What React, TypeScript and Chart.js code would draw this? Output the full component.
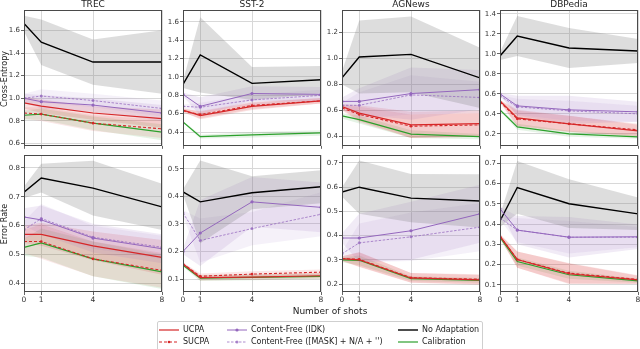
import React, { useEffect, useRef } from "react";
import { Chart, registerables } from "chart.js";

Chart.register(...registerables);

// ---------- data ----------
const SHOTS = [0, 1, 4, 8];
const X_TICKS = [0, 1, 4, 8];
const TITLES = ["TREC", "SST-2", "AGNews", "DBPedia"];
const ROW_LABELS = ["Cross-Entropy", "Error Rate"];
const SERIES_LABELS = [
  "No Adaptation",
  "Content-Free (IDK)",
  "Content-Free ([MASK] + N/A + '')",
  "UCPA",
  "SUCPA",
  "Calibration",
];

// TREC – cross-entropy
const trecCeNoAdapt = [1.66, 1.495, 1.32, 1.32];
const trecCeNoAdaptSd = [0.07, 0.2, 0.2, 0.28];
const trecCeIdk = [1.0, 0.97, 0.94, 0.87];
const trecCeIdkSd = [0.04, 0.06, 0.06, 0.07];
const trecCeMask = [1.0, 1.02, 0.98, 0.91];
const trecCeMaskSd = [0.04, 0.06, 0.06, 0.07];
const trecCeUcpa = [0.96, 0.93, 0.87, 0.82];
const trecCeUcpaSd = [0.05, 0.06, 0.06, 0.08];
const trecCeSucpa = [0.87, 0.86, 0.78, 0.73];
const trecCeSucpaSd = [0.05, 0.06, 0.07, 0.08];
const trecCeCalib = [0.85, 0.86, 0.78, 0.7];
const trecCeCalibSd = [0.04, 0.05, 0.06, 0.07];
const trecCeTicks = [0.6, 0.8, 1.0, 1.2, 1.4, 1.6];

// SST-2 – cross-entropy
const sstCeNoAdapt = [0.92, 1.24, 0.93, 0.97];
const sstCeNoAdaptSd = [0.04, 0.41, 0.18, 0.15];
const sstCeIdk = [0.81, 0.68, 0.82, 0.81];
const sstCeIdkSd = [0.02, 0.1, 0.08, 0.08];
const sstCeMask = [0.68, 0.67, 0.75, 0.8];
const sstCeMaskSd = [0.02, 0.05, 0.06, 0.06];
const sstCeUcpa = [0.64, 0.58, 0.68, 0.74];
const sstCeUcpaSd = [0.02, 0.04, 0.04, 0.03];
const sstCeSucpa = [0.63, 0.59, 0.69, 0.74];
const sstCeSucpaSd = [0.02, 0.04, 0.04, 0.03];
const sstCeCalib = [0.51, 0.35, 0.37, 0.39];
const sstCeCalibSd = [0.01, 0.02, 0.03, 0.03];
const sstCeTicks = [0.4, 0.6, 0.8, 1.0, 1.2, 1.4, 1.6];

// AGNews – cross-entropy
const agCeNoAdapt = [0.85, 1.01, 1.03, 0.85];
const agCeNoAdaptSd = [0.05, 0.28, 0.29, 0.23];
const agCeIdk = [0.67, 0.67, 0.73, 0.76];
const agCeIdkSd = [0.03, 0.1, 0.2, 0.15];
const agCeMask = [0.64, 0.64, 0.72, 0.7];
const agCeMaskSd = [0.02, 0.1, 0.15, 0.12];
const agCeUcpa = [0.63, 0.58, 0.49, 0.5];
const agCeUcpaSd = [0.02, 0.06, 0.1, 0.1];
const agCeSucpa = [0.62, 0.57, 0.48, 0.49];
const agCeSucpaSd = [0.02, 0.06, 0.09, 0.09];
const agCeCalib = [0.56, 0.53, 0.42, 0.4];
const agCeCalibSd = [0.02, 0.03, 0.03, 0.02];
const agCeTicks = [0.4, 0.6, 0.8, 1.0, 1.2];

// DBPedia – cross-entropy
const dbCeNoAdapt = [0.98, 1.18, 1.06, 1.03];
const dbCeNoAdaptSd = [0.04, 0.2, 0.2, 0.12];
const dbCeIdk = [0.6, 0.48, 0.44, 0.42];
const dbCeIdkSd = [0.01, 0.1, 0.14, 0.1];
const dbCeMask = [0.58, 0.47, 0.43, 0.4];
const dbCeMaskSd = [0.01, 0.08, 0.1, 0.08];
const dbCeUcpa = [0.53, 0.36, 0.3, 0.23];
const dbCeUcpaSd = [0.01, 0.08, 0.08, 0.06];
const dbCeSucpa = [0.52, 0.35, 0.3, 0.24];
const dbCeSucpaSd = [0.01, 0.08, 0.08, 0.06];
const dbCeCalib = [0.44, 0.27, 0.2, 0.17];
const dbCeCalibSd = [0.01, 0.03, 0.03, 0.02];
const dbCeTicks = [0.2, 0.4, 0.6, 0.8, 1.0, 1.2, 1.4];

// TREC – error rate
const trecErNoAdapt = [0.716, 0.765, 0.73, 0.665];
const trecErNoAdaptSd = [0.02, 0.05, 0.095, 0.08];
const trecErIdk = [0.63, 0.62, 0.557, 0.52];
const trecErIdkSd = [0.03, 0.05, 0.05, 0.05];
const trecErMask = [0.585, 0.625, 0.56, 0.525];
const trecErMaskSd = [0.03, 0.05, 0.04, 0.04];
const trecErUcpa = [0.57, 0.57, 0.53, 0.49];
const trecErUcpaSd = [0.03, 0.04, 0.05, 0.06];
const trecErSucpa = [0.545, 0.545, 0.485, 0.445];
const trecErSucpaSd = [0.04, 0.06, 0.06, 0.06];
const trecErCalib = [0.525, 0.54, 0.485, 0.44];
const trecErCalibSd = [0.03, 0.05, 0.06, 0.06];
const trecErTicks = [0.4, 0.5, 0.6, 0.7, 0.8];

// SST-2 – error rate
const sstErNoAdapt = [0.416, 0.38, 0.413, 0.435];
const sstErNoAdaptSd = [0.01, 0.15, 0.06, 0.06];
const sstErIdk = [0.2, 0.267, 0.38, 0.36];
const sstErIdkSd = [0.01, 0.12, 0.09, 0.09];
const sstErMask = [0.34, 0.24, 0.283, 0.335];
const sstErMaskSd = [0.01, 0.08, 0.06, 0.08];
const sstErUcpa = [0.155, 0.105, 0.107, 0.112];
const sstErUcpaSd = [0.005, 0.01, 0.01, 0.01];
const sstErSucpa = [0.155, 0.11, 0.118, 0.125];
const sstErSucpaSd = [0.005, 0.01, 0.01, 0.01];
const sstErCalib = [0.15, 0.103, 0.106, 0.11];
const sstErCalibSd = [0.005, 0.01, 0.01, 0.01];
const sstErTicks = [0.1, 0.2, 0.3, 0.4, 0.5];

// AGNews – error rate
const agErNoAdapt = [0.58, 0.6, 0.555, 0.543];
const agErNoAdaptSd = [0.02, 0.11, 0.1, 0.11];
const agErIdk = [0.39, 0.39, 0.42, 0.49];
const agErIdkSd = [0.02, 0.1, 0.12, 0.12];
const agErMask = [0.325, 0.37, 0.395, 0.435];
const agErMaskSd = [0.01, 0.08, 0.1, 0.1];
const agErUcpa = [0.305, 0.3, 0.225, 0.217];
const agErUcpaSd = [0.01, 0.03, 0.02, 0.02];
const agErSucpa = [0.305, 0.302, 0.226, 0.22];
const agErSucpaSd = [0.01, 0.03, 0.02, 0.02];
const agErCalib = [0.3, 0.298, 0.222, 0.215];
const agErCalibSd = [0.01, 0.02, 0.01, 0.01];
const agErTicks = [0.2, 0.3, 0.4, 0.5, 0.6, 0.7];

// DBPedia – error rate
const dbErNoAdapt = [0.415, 0.58, 0.5, 0.45];
const dbErNoAdaptSd = [0.03, 0.13, 0.12, 0.08];
const dbErIdk = [0.475, 0.37, 0.335, 0.337];
const dbErIdkSd = [0.01, 0.07, 0.1, 0.06];
const dbErMask = [0.43, 0.37, 0.335, 0.335];
const dbErMaskSd = [0.01, 0.06, 0.08, 0.05];
const dbErUcpa = [0.34, 0.225, 0.155, 0.125];
const dbErUcpaSd = [0.01, 0.04, 0.05, 0.02];
const dbErSucpa = [0.34, 0.225, 0.158, 0.127];
const dbErSucpaSd = [0.01, 0.04, 0.05, 0.02];
const dbErCalib = [0.335, 0.215, 0.15, 0.12];
const dbErCalibSd = [0.01, 0.02, 0.02, 0.01];
const dbErTicks = [0.1, 0.2, 0.3, 0.4, 0.5, 0.6, 0.7];

// ---------- styles ----------
const FONT = "'DejaVu Sans', sans-serif";
const STYLES = [
  { color: "#000000", band: "rgba(120,120,120,0.25)", width: 1.4, dash: [] as number[], radius: 0 },
  { color: "#9467bd", band: "rgba(148,103,189,0.13)", width: 1, dash: [] as number[], radius: 1.6 },
  { color: "rgba(148,103,189,0.75)", band: "rgba(148,103,189,0.09)", width: 1, dash: [2.5, 1.5], radius: 1.5 },
  { color: "#d62728", band: "rgba(214,39,40,0.15)", width: 1.2, dash: [] as number[], radius: 0 },
  { color: "#d62728", band: "rgba(214,39,40,0.11)", width: 1.1, dash: [3, 2], radius: 1.3 },
  { color: "#2ca02c", band: "rgba(44,160,44,0.12)", width: 1.2, dash: [] as number[], radius: 0 },
];
const LINE_ORDER = [5, 3, 4, 1, 0, 2];

type PanelSpec = {
  means: number[][];
  sds: number[][];
  yMin: number;
  yMax: number;
  yTicks: number[];
};

const PANELS: PanelSpec[][] = [
  [
    { means: [trecCeNoAdapt, trecCeIdk, trecCeMask, trecCeUcpa, trecCeSucpa, trecCeCalib], sds: [trecCeNoAdaptSd, trecCeIdkSd, trecCeMaskSd, trecCeUcpaSd, trecCeSucpaSd, trecCeCalibSd], yMin: 0.58, yMax: 1.78, yTicks: trecCeTicks },
    { means: [sstCeNoAdapt, sstCeIdk, sstCeMask, sstCeUcpa, sstCeSucpa, sstCeCalib], sds: [sstCeNoAdaptSd, sstCeIdkSd, sstCeMaskSd, sstCeUcpaSd, sstCeSucpaSd, sstCeCalibSd], yMin: 0.25, yMax: 1.73, yTicks: sstCeTicks },
    { means: [agCeNoAdapt, agCeIdk, agCeMask, agCeUcpa, agCeSucpa, agCeCalib], sds: [agCeNoAdaptSd, agCeIdkSd, agCeMaskSd, agCeUcpaSd, agCeSucpaSd, agCeCalibSd], yMin: 0.33, yMax: 1.37, yTicks: agCeTicks },
    { means: [dbCeNoAdapt, dbCeIdk, dbCeMask, dbCeUcpa, dbCeSucpa, dbCeCalib], sds: [dbCeNoAdaptSd, dbCeIdkSd, dbCeMaskSd, dbCeUcpaSd, dbCeSucpaSd, dbCeCalibSd], yMin: 0.08, yMax: 1.44, yTicks: dbCeTicks },
  ],
  [
    { means: [trecErNoAdapt, trecErIdk, trecErMask, trecErUcpa, trecErSucpa, trecErCalib], sds: [trecErNoAdaptSd, trecErIdkSd, trecErMaskSd, trecErUcpaSd, trecErSucpaSd, trecErCalibSd], yMin: 0.37, yMax: 0.845, yTicks: trecErTicks },
    { means: [sstErNoAdapt, sstErIdk, sstErMask, sstErUcpa, sstErSucpa, sstErCalib], sds: [sstErNoAdaptSd, sstErIdkSd, sstErMaskSd, sstErUcpaSd, sstErSucpaSd, sstErCalibSd], yMin: 0.053, yMax: 0.55, yTicks: sstErTicks },
    { means: [agErNoAdapt, agErIdk, agErMask, agErUcpa, agErSucpa, agErCalib], sds: [agErNoAdaptSd, agErIdkSd, agErMaskSd, agErUcpaSd, agErSucpaSd, agErCalibSd], yMin: 0.167, yMax: 0.733, yTicks: agErTicks },
    { means: [dbErNoAdapt, dbErIdk, dbErMask, dbErUcpa, dbErSucpa, dbErCalib], sds: [dbErNoAdaptSd, dbErIdkSd, dbErMaskSd, dbErUcpaSd, dbErSucpaSd, dbErCalibSd], yMin: 0.065, yMax: 0.74, yTicks: dbErTicks },
  ],
];

// ---------- layout ----------
const COL_LEFTS = [24, 183, 342, 500];
const ROW_TOPS = [10, 155];
const PLOT_W = 138;
const PLOT_H = 137;
const Y_AXIS_W = 24;
const PAD_T = 6;
const PAD_R = 5;

const boxPlugin = {
  id: "spineBox",
  afterDraw(chart: any) {
    const { ctx, chartArea } = chart;
    ctx.save();
    ctx.strokeStyle = "#4a4a4a";
    ctx.lineWidth = 1;
    ctx.strokeRect(
      Math.round(chartArea.left) + 0.5,
      Math.round(chartArea.top) + 0.5,
      Math.round(chartArea.right - chartArea.left) - 1,
      Math.round(chartArea.bottom - chartArea.top) - 1
    );
    ctx.restore();
  },
};

function Panel({ spec, col, row }: { spec: PanelSpec; col: number; row: number }) {
  const ref = useRef<HTMLCanvasElement | null>(null);
  const bottomRow = row === 1;
  const xAxisH = bottomRow ? 14 : 4;
  const cw = Y_AXIS_W + PLOT_W + PAD_R;
  const ch = PAD_T + PLOT_H + xAxisH;

  useEffect(() => {
    if (!ref.current) return;
    const datasets: any[] = [];
    spec.means.forEach((m, s) => {
      const st = STYLES[s];
      datasets.push({
        data: SHOTS.map((x, i) => ({ x, y: m[i] })),
        borderColor: st.color,
        borderWidth: st.width,
        borderDash: st.dash,
        pointRadius: st.radius,
        pointBackgroundColor: st.color,
        pointBorderWidth: 0,
        fill: false,
        tension: 0,
        order: LINE_ORDER[s],
      });
    });
    spec.means.forEach((m, s) => {
      const st = STYLES[s];
      const sd = spec.sds[s];
      datasets.push({
        data: SHOTS.map((x, i) => ({ x, y: m[i] + sd[i] })),
        borderWidth: 0,
        borderColor: "rgba(0,0,0,0)",
        pointRadius: 0,
        backgroundColor: st.band,
        fill: "+1",
        tension: 0,
        order: 100 + s * 2,
      });
      datasets.push({
        data: SHOTS.map((x, i) => ({ x, y: m[i] - sd[i] })),
        borderWidth: 0,
        borderColor: "rgba(0,0,0,0)",
        pointRadius: 0,
        fill: false,
        tension: 0,
        order: 101 + s * 2,
      });
    });

    const chart = new Chart(ref.current, {
      type: "line",
      data: { datasets },
      options: {
        animation: false,
        responsive: false,
        maintainAspectRatio: false,
        layout: { padding: { top: PAD_T, right: PAD_R, bottom: 0, left: 0 }, autoPadding: false } as any,
        plugins: { legend: { display: false }, tooltip: { enabled: false }, title: { display: false } },
        scales: {
          x: {
            type: "linear",
            min: 0,
            max: 8,
            afterBuildTicks: (s: any) => {
              s.ticks = X_TICKS.map((v) => ({ value: v }));
            },
            afterFit: (s: any) => {
              s.height = xAxisH;
            },
            ticks: {
              display: bottomRow,
              autoSkip: false,
              maxRotation: 0,
              padding: 1,
              color: "#333",
              font: { size: 7.5, family: FONT },
              callback: (v: any) => String(v),
            },
            grid: { color: "#d8d8d8", lineWidth: 1, tickLength: 3, tickColor: "#666" },
            border: { display: false },
          },
          y: {
            type: "linear",
            min: spec.yMin,
            max: spec.yMax,
            afterBuildTicks: (s: any) => {
              s.ticks = spec.yTicks.map((v) => ({ value: v }));
            },
            afterFit: (s: any) => {
              s.width = Y_AXIS_W;
            },
            ticks: {
              padding: 1,
              color: "#333",
              font: { size: 7, family: FONT },
              callback: (v: any) => Number(v).toFixed(1),
            },
            grid: { color: "#d8d8d8", lineWidth: 1, tickLength: 3, tickColor: "#666" },
            border: { display: false },
          },
        },
      } as any,
      plugins: [boxPlugin],
    });
    return () => chart.destroy();
  }, [spec, bottomRow, xAxisH]);

  return (
    <canvas
      ref={ref}
      width={cw}
      height={ch}
      style={{
        position: "absolute",
        left: COL_LEFTS[col] - Y_AXIS_W,
        top: ROW_TOPS[row] - PAD_T,
        width: cw,
        height: ch,
      }}
    />
  );
}

function LegendSample({ s }: { s: number }) {
  const st = STYLES[s];
  return (
    <svg width={20} height={8} style={{ display: "block" }}>
      <line
        x1={0}
        y1={4}
        x2={20}
        y2={4}
        stroke={st.color}
        strokeWidth={st.width}
        strokeDasharray={st.dash.length ? st.dash.join(" ") : undefined}
      />
      {st.radius > 0 ? <circle cx={10} cy={4} r={st.radius} fill={st.color} /> : null}
    </svg>
  );
}

const LEGEND_SLOTS = [
  { s: 3, x: 159, y: 330 },
  { s: 4, x: 159, y: 342 },
  { s: 1, x: 227, y: 330 },
  { s: 2, x: 227, y: 342 },
  { s: 0, x: 398, y: 330 },
  { s: 5, x: 398, y: 342 },
];

export default function App() {
  return (
    <div
      style={{
        position: "absolute",
        left: 0,
        top: 0,
        width: 640,
        height: 349,
        background: "#fff",
        overflow: "hidden",
        fontFamily: FONT,
        color: "#222",
      }}
    >
      {PANELS.map((rowSpecs, r) =>
        rowSpecs.map((spec, c) => <Panel key={`${r}-${c}`} spec={spec} col={c} row={r} />)
      )}
      {TITLES.map((t, c) => (
        <div
          key={t}
          style={{
            position: "absolute",
            left: COL_LEFTS[c],
            width: PLOT_W,
            top: -1,
            textAlign: "center",
            fontSize: 9,
            lineHeight: "11px",
          }}
        >
          {t}
        </div>
      ))}
      {ROW_LABELS.map((t, r) => (
        <div
          key={t}
          style={{
            position: "absolute",
            left: 5 - 50,
            top: ROW_TOPS[r] + PLOT_H / 2 - 6,
            width: 100,
            height: 12,
            lineHeight: "12px",
            textAlign: "center",
            fontSize: 8,
            transform: "rotate(-90deg)",
          }}
        >
          {t}
        </div>
      ))}
      <div
        style={{
          position: "absolute",
          left: 250,
          width: 160,
          top: 305,
          textAlign: "center",
          fontSize: 9,
          lineHeight: "12px",
        }}
      >
        Number of shots
      </div>
      <div
        style={{
          position: "absolute",
          left: 157,
          top: 321,
          width: 326,
          height: 30,
          border: "1px solid #cfcfcf",
          borderRadius: 2,
          boxSizing: "border-box",
          background: "#fff",
        }}
      />
      {LEGEND_SLOTS.map((slot) => (
        <React.Fragment key={slot.s}>
          <div style={{ position: "absolute", left: slot.x, top: slot.y - 4 }}>
            <LegendSample s={slot.s} />
          </div>
          <div
            style={{
              position: "absolute",
              left: slot.x + 24,
              top: slot.y - 6,
              fontSize: 8,
              lineHeight: "12px",
              whiteSpace: "nowrap",
            }}
          >
            {SERIES_LABELS[slot.s]}
          </div>
        </React.Fragment>
      ))}
    </div>
  );
}
